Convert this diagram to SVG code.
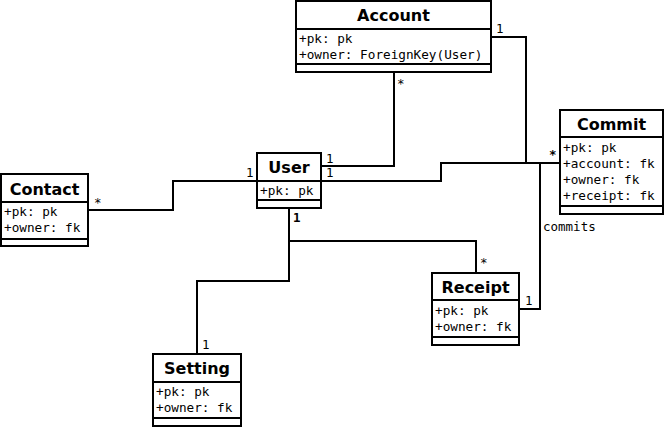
<svg xmlns="http://www.w3.org/2000/svg" width="665" height="428" viewBox="0 0 665 428">
<style>
.box{fill:#fff;stroke:#000;stroke-width:2}
.sep{stroke:#000;stroke-width:2}
.t{font-family:"DejaVu Sans",sans-serif;font-weight:bold;font-size:16px;text-anchor:middle;fill:#000}
.a{font-family:"DejaVu Sans Mono",monospace;font-size:12.7px;fill:#000}
.l{font-family:"DejaVu Sans Mono",monospace;font-size:12.5px;fill:#000}
.c{fill:none;stroke:#000;stroke-width:2}
</style>
<rect width="665" height="428" fill="#fff"/>
<g id="connectors">
<polyline class="c" points="491,37 526,37 526,163 560,163"/>
<polyline class="c" points="394,72 394,166 321,166"/>
<polyline class="c" points="321,181 441,181 441,163 560,163"/>
<polyline class="c" points="88,210 173,210 173,181 257,181"/>
<polyline class="c" points="289,208 289,241 476,241 476,273"/>
<polyline class="c" points="289,241 289,281 197,281 197,354"/>
<polyline class="c" points="519,309 540,309 540,163"/>
<text class="l" x="496" y="33">1</text>
<text class="l" x="397" y="88">*</text>
<text class="l" x="326" y="163">1</text>
<text class="l" x="326" y="177">1</text>
<text class="l" x="246" y="177">1</text>
<text class="l" x="293" y="222" font-weight="bold">1</text>
<text class="l" x="94" y="207">*</text>
<text class="l" x="549" y="159" font-weight="bold">*</text>
<text class="l" x="543" y="231">commits</text>
<text class="l" x="480" y="267">*</text>
<text class="l" x="525" y="305">1</text>
<text class="l" x="202" y="349">1</text>
</g>
<g id="account">
<rect class="box" x="296" y="1" width="195" height="71"/>
<line class="sep" x1="296" y1="29" x2="491" y2="29"/>
<line class="sep" x1="296" y1="64" x2="491" y2="64"/>
<text class="t" x="393.5" y="21">Account</text>
<text class="a" x="299" y="43">+pk: pk</text>
<text class="a" x="299" y="59">+owner: ForeignKey(User)</text>
</g>
<g id="commit">
<rect class="box" x="560" y="110" width="103" height="104"/>
<line class="sep" x1="560" y1="137" x2="663" y2="137"/>
<line class="sep" x1="560" y1="206" x2="663" y2="206"/>
<text class="t" x="611.5" y="130">Commit</text>
<text class="a" x="563" y="152">+pk: pk</text>
<text class="a" x="563" y="168">+account: fk</text>
<text class="a" x="563" y="184">+owner: fk</text>
<text class="a" x="563" y="200">+receipt: fk</text>
</g>
<g id="user">
<rect class="box" x="257" y="153" width="64" height="55"/>
<line class="sep" x1="257" y1="181" x2="321" y2="181"/>
<line class="sep" x1="257" y1="200" x2="321" y2="200"/>
<text class="t" x="289" y="173">User</text>
<text class="a" x="260" y="195">+pk: pk</text>
</g>
<g id="contact">
<rect class="box" x="1" y="174" width="87" height="72"/>
<line class="sep" x1="1" y1="202" x2="88" y2="202"/>
<line class="sep" x1="1" y1="239" x2="88" y2="239"/>
<text class="t" x="44.5" y="195">Contact</text>
<text class="a" x="4" y="216">+pk: pk</text>
<text class="a" x="4" y="232">+owner: fk</text>
</g>
<g id="receipt">
<rect class="box" x="432" y="273" width="87" height="72"/>
<line class="sep" x1="432" y1="300" x2="519" y2="300"/>
<line class="sep" x1="432" y1="337" x2="519" y2="337"/>
<text class="t" x="475.5" y="293">Receipt</text>
<text class="a" x="435" y="315">+pk: pk</text>
<text class="a" x="435" y="331">+owner: fk</text>
</g>
<g id="setting">
<rect class="box" x="153" y="354" width="88" height="72"/>
<line class="sep" x1="153" y1="382" x2="241" y2="382"/>
<line class="sep" x1="153" y1="418" x2="241" y2="418"/>
<text class="t" x="197" y="374">Setting</text>
<text class="a" x="156" y="396">+pk: pk</text>
<text class="a" x="156" y="412">+owner: fk</text>
</g>
</svg>
